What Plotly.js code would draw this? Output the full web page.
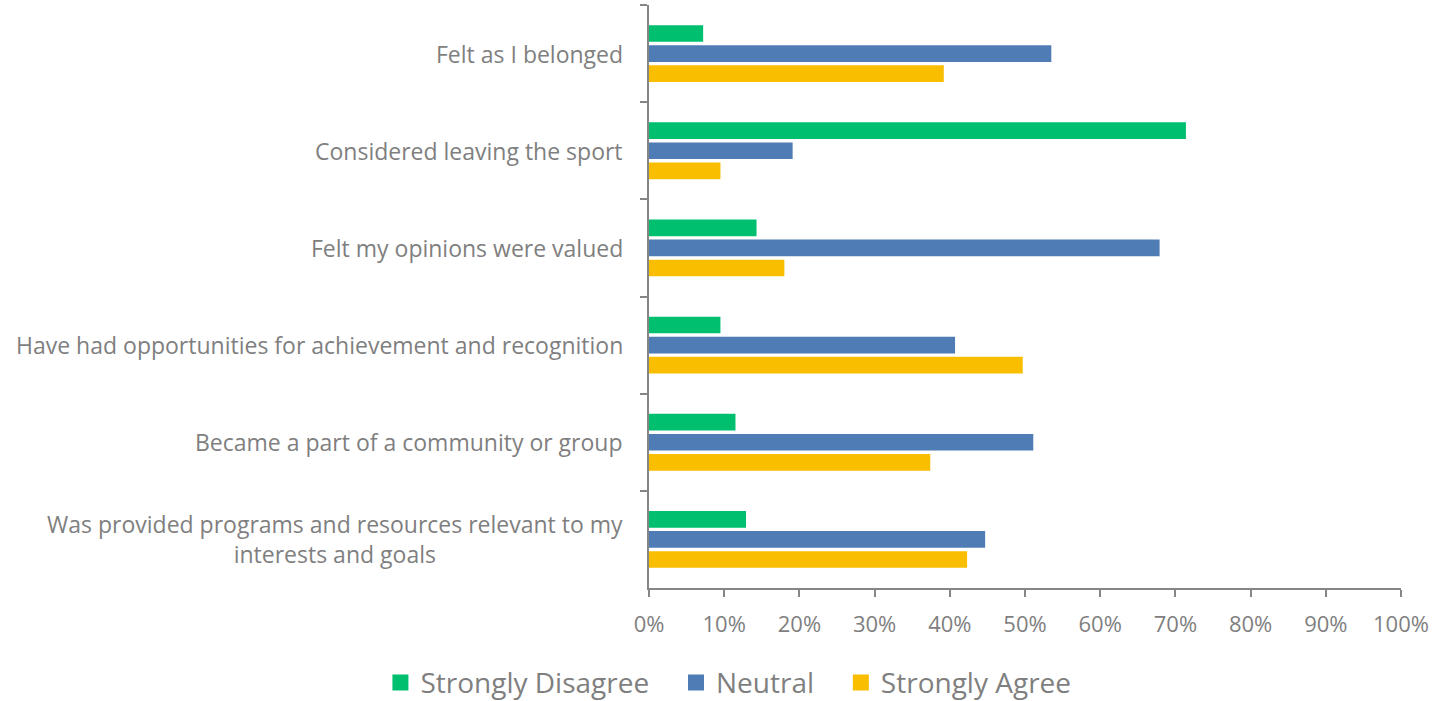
<!DOCTYPE html>
<html>
<head>
<meta charset="utf-8">
<script src="https://cdn.plot.ly/plotly-3.0.1.min.js"></script>
<style>html,body{margin:0;padding:0;background:#fff;}#chart{width:1441px;height:701px;}</style>
</head>
<body>
<div id="chart"></div>
<script>
const categories = [
  "Felt as I belonged",
  "Considered leaving the sport",
  "Felt my opinions were valued",
  "Have had opportunities for achievement and recognition",
  "Became a part of a community or group",
  "Was provided programs and resources relevant to my<br>interests and goals"
];
const seriesNames = ["Strongly Disagree", "Neutral", "Strongly Agree"];
const stronglyDisagree = [0.072, 0.714, 0.143, 0.095, 0.115, 0.129];
const neutral = [0.535, 0.191, 0.679, 0.407, 0.511, 0.447];
const stronglyAgree = [0.392, 0.095, 0.180, 0.497, 0.374, 0.423];
const xTickVals = [0,0.1,0.2,0.3,0.4,0.5,0.6,0.7,0.8,0.9,1.0];
const xTickText = ["0%","10%","20%","30%","40%","50%","60%","70%","80%","90%","100%"];

const colors = ["#00BF6F", "#4F7CB4", "#F9BE00"];
const values = [stronglyDisagree, neutral, stronglyAgree];
const font = "'Open Sans', sans-serif";
const grey = "#7F7F7F";
const axisGrey = "#868686";

const traces = values.map((v, i) => ({
  type: "bar",
  orientation: "h",
  name: seriesNames[i],
  y: categories,
  x: v,
  marker: {color: colors[i]},
  showlegend: false,
  hoverinfo: "x+name"
}));
// legend entries with larger square swatches (padding keeps the wider spacing between entries)
const pad = "\u00A0\u00A0\u00A0";
seriesNames.forEach((n, i) => {
  traces.push({
    type: "scatter", mode: "markers",
    name: i < seriesNames.length - 1 ? n + pad : n,
    x: [null], y: [null],
    marker: {symbol: "square", size: 16, color: colors[i]},
    showlegend: true, hoverinfo: "skip"
  });
});

const annotations = categories.map(c => ({
  xref: "paper", yref: "y",
  x: 0, y: c,
  xanchor: "right", yanchor: "middle",
  xshift: -24,
  text: c, align: "center", showarrow: false,
  font: {size: 23, color: grey, family: font}
}));

const layout = {
  width: 1441, height: 701,
  margin: {l: 649, r: 40, t: 5, b: 113},
  paper_bgcolor: "#fff", plot_bgcolor: "#fff",
  barmode: "group",
  bargap: 0.38,
  bargroupgap: 0.17,
  font: {family: font, color: grey},
  annotations: annotations,
  xaxis: {
    range: [0, 1.0],
    tickvals: xTickVals, ticktext: xTickText,
    showgrid: false, zeroline: false,
    showline: true, linecolor: axisGrey, linewidth: 2,
    ticks: "outside", ticklen: 7, tickcolor: axisGrey, tickwidth: 2,
    ticklabelstandoff: 9,
    tickfont: {size: 22, color: grey, family: font},
    fixedrange: true
  },
  yaxis: {
    type: "category",
    autorange: "reversed",
    showgrid: false, zeroline: false,
    showline: true, linecolor: axisGrey, linewidth: 2,
    ticks: "outside", ticklen: 7, tickcolor: axisGrey, tickwidth: 2,
    tickson: "boundaries",
    showticklabels: false,
    fixedrange: true
  },
  legend: {
    orientation: "h",
    xref: "container", yref: "container",
    x: 0.5055, xanchor: "center",
    y: 0.026, yanchor: "middle",
    font: {size: 28, color: grey, family: font},
    itemwidth: 30,
    traceorder: "normal"
  },
  showlegend: true
};

Plotly.newPlot("chart", traces, layout, {displayModeBar: false});
</script>
</body>
</html>
